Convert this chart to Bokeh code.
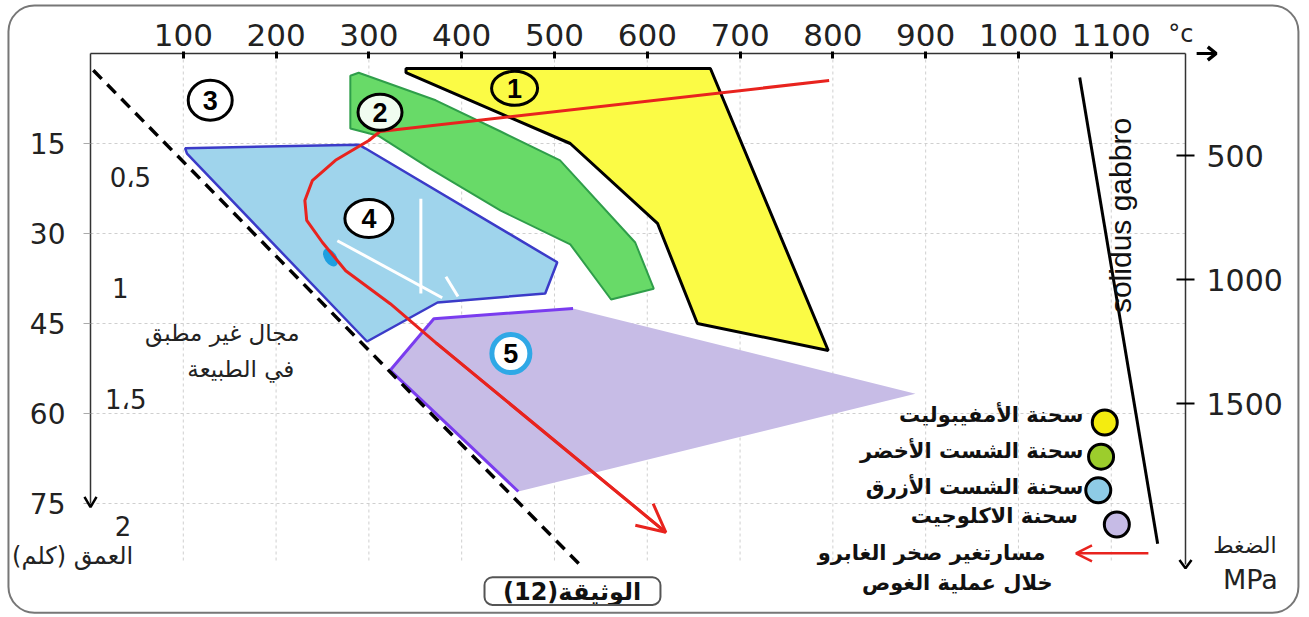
import math
from bokeh.plotting import figure
from bokeh.models import Range1d, LinearAxis, FixedTicker, Arrow, OpenHead
from bokeh.core.properties import value
from bokeh.embed import file_html
from bokeh.resources import INLINE

# ---------------- data (temperature °C, depth km) ----------------
temp_ticks = [100, 200, 300, 400, 500, 600, 700, 800, 900, 1000, 1100]
depth_ticks = [15, 30, 45, 60, 75]
pressure_ticks = [500, 1000, 1500]

# 1 amphibolite facies
amph_T = [340, 668, 795, 654, 611, 517, 340]
amph_D = [2.5, 2.5, 49.5, 45.0, 28.3, 15.0, 3.2]
# 2 greenschist facies
green_T = [280, 289, 372, 442, 506, 587, 607, 561, 517, 442, 366, 310, 280]
green_D = [3.7, 3.2, 7.8, 13.0, 17.8, 31.5, 39.2, 41.0, 31.8, 26.2, 19.2, 13.7, 12.5]
# 4 blueschist facies
blue_T = [102, 289, 296, 503, 490, 374, 298, 104]
blue_D = [15.8, 15.2, 15.8, 34.8, 40.0, 41.5, 48.0, 16.7]
# 5 eclogite facies
ecl_T = [370, 520, 889, 461, 323]
ecl_D = [44.2, 42.5, 56.7, 73.0, 52.8]
ecl_edge_T = [520, 370, 323, 461]
ecl_edge_D = [42.5, 44.2, 52.8, 73.0]
# white scratches inside blueschist field
scratch_T = [[266, 379], [356, 356], [383, 396]]
scratch_D = [[31.2, 40.7], [24.2, 40.0], [37.2, 40.5]]
# P-T path of the gabbro during subduction
path_T = [796, 312, 300, 264, 239, 231, 233, 250, 275, 323, 372, 620]
path_D = [4.5, 13.0, 14.5, 17.8, 21.2, 24.5, 27.8, 31.5, 36.2, 41.7, 48.2, 79.8]
# limit of the domain not realized in nature
limit_T = [3, 528]
limit_D = [2.8, 85.3]
# solidus of gabbro
solidus_T = [1066, 1150]
solidus_D = [4.0, 81.7]

zone_ids = ["1", "2", "3", "4", "5"]
zone_T = [457, 312, 129, 300, 453]
zone_D = [5.8, 9.8, 7.8, 27.5, 50.0]

gpa_text = ["0،5", "1", "1،5", "2"]
gpa_T = [43, 32, 38, 35]
gpa_D = [20.8, 39.0, 57.8, 78.7]

legend_labels = ["سحنة الأمفيبوليت", "سحنة الشست الأخضر", "سحنة الشست الأزرق", "سحنة الاكلوجيت"]
legend_colors = ["#f4ec10", "#9ccd2c", "#8ecbe6", "#c6bbe6"]
legend_dot_T = [1093, 1089, 1086, 1106]
legend_dot_D = [61.5, 67.2, 72.8, 78.5]
legend_text_T = [1070, 1070, 1070, 1064]
legend_text_D = [60.3, 66.3, 72.3, 77.0]
path_label = ["مسارتغير صخر الغابرو", "خلال عملية الغوص"]
path_label_T = [1029, 934]
path_label_D = [83.2, 88.3]
legend_arrow_T = [1140, 1062]
legend_arrow_D = [83.3, 83.3]

# axis ends
T_MAX = 1180
D_AXIS_END = 75.3
P_TOP, P_BOTTOM = 88.7, 2362.9
P_AXIS_END = 2150

RED = "#e8231e"
AR = value("DejaVu Sans")

p = figure(width=1309, height=617,
           x_range=Range1d(0, T_MAX), y_range=Range1d(94.0, 0),
           x_axis_location=None, y_axis_location=None,
           toolbar_location=None, output_backend="svg",
           min_border_left=90, min_border_right=124, min_border_top=53, min_border_bottom=0,
           background_fill_color="white", border_fill_color="white",
           outline_line_color=None)
p.grid.visible = False
p.extra_y_ranges = {"p": Range1d(P_BOTTOM, P_TOP)}

# grid
p.segment(x0=temp_ticks, y0=[0] * len(temp_ticks), x1=temp_ticks, y1=[84.5] * len(temp_ticks),
          line_color="#cfcfcf", line_dash="3 3", line_width=1)
p.segment(x0=[0] * len(depth_ticks), y0=depth_ticks, x1=[T_MAX] * len(depth_ticks), y1=depth_ticks,
          line_color="#cfcfcf", line_dash="3 3", line_width=1)

# facies fields
p.patch(ecl_T, ecl_D, fill_color="#c7bce6", line_color=None)
p.line(ecl_edge_T, ecl_edge_D, line_color="#7a3cef", line_width=3)
p.patch(blue_T, blue_D, fill_color="#9fd4ec", line_color="#3b3bc8", line_width=2.5)
p.multi_line(scratch_T, scratch_D, line_color="white", line_width=3)
p.patch(green_T, green_D, fill_color="#68da68", line_color="#2f9e4a", line_width=2)
p.patch(amph_T, amph_D, fill_color="#fbfb45", line_color="black", line_width=3)

p.line(limit_T, limit_D, line_color="black", line_dash="12 8", line_width=3.5)

# P-T path
p.ellipse(x=[258.6], y=[34.0], width=12, height=20, width_units="screen", height_units="screen",
          angle=0.6, fill_color="#1f9fe0", line_color=None)
p.line(path_T, path_D, line_color=RED, line_width=3)
p.add_layout(Arrow(end=OpenHead(size=28, line_color=RED, line_width=3),
                   x_start=path_T[-2], y_start=path_D[-2], x_end=path_T[-1], y_end=path_D[-1],
                   line_color=RED, line_width=3))

# solidus
p.line(solidus_T, solidus_D, line_color="black", line_width=3)
p.text(x=[1110], y=[27], text=["solidus gabbro"], angle=math.pi / 2,
       text_font=value("Liberation Sans"), text_font_size="30px",
       text_align="center", text_baseline="middle", text_color="#111")

# circled zone numbers
p.ellipse(x=zone_T[:4], y=zone_D[:4], width=[46, 44, 44, 48], height=[34, 36, 40, 38],
          width_units="screen", height_units="screen",
          fill_color=["#fbfb45", "white", "white", "white"], fill_alpha=[0, 0.9, 1, 1],
          line_color="black", line_width=3)
p.ellipse(x=zone_T[4:], y=zone_D[4:], width=38, height=38, width_units="screen", height_units="screen",
          fill_color="white", line_color="#2fa8e6", line_width=5)
p.text(x=zone_T, y=zone_D, text=zone_ids, text_font=value("Liberation Sans"),
       text_font_style="bold", text_font_size="27px", text_align="center",
       text_baseline="middle", text_color="black")

# inner pressure labels (GPa)
p.text(x=gpa_T, y=gpa_D, text=gpa_text, text_font=value("DejaVu Sans"), text_font_size="26px",
       text_align="center", text_baseline="middle", text_color="#222")

# domain label
p.text(x=[142, 162], y=[46.5, 52.6], text=["مجال غير مطبق", "في الطبيعة"], text_font=AR,
       text_font_size="23px", text_align="center", text_baseline="middle", text_color="#222")

# legend
p.scatter(x=legend_dot_T, y=legend_dot_D, marker="circle", size=25, fill_color=legend_colors,
          line_color="black", line_width=3)
p.text(x=legend_text_T, y=legend_text_D, text=legend_labels, text_font=AR, text_font_style="bold",
       text_font_size="21px", text_align="right", text_baseline="middle", text_color="#111")
p.text(x=path_label_T, y=path_label_D, text=path_label, text_font=AR, text_font_style="bold",
       text_font_size="21px", text_align=["right", "center"], text_baseline="middle", text_color="#111")
p.add_layout(Arrow(end=OpenHead(size=16, line_color=RED, line_width=2.5),
                   x_start=legend_arrow_T[0], y_start=legend_arrow_D[0],
                   x_end=legend_arrow_T[1], y_end=legend_arrow_D[1],
                   line_color=RED, line_width=2.5))

# axes
ax_top = LinearAxis(ticker=FixedTicker(ticks=temp_ticks), bounds=(0, T_MAX))
ax_left = LinearAxis(ticker=FixedTicker(ticks=depth_ticks), bounds=(0, D_AXIS_END))
ax_right = LinearAxis(y_range_name="p", ticker=FixedTicker(ticks=pressure_ticks), bounds=(P_TOP, P_AXIS_END))
for ax in (ax_top, ax_left, ax_right):
    ax.minor_tick_line_color = None
    ax.axis_line_color = "#333"
    ax.axis_line_width = 1.5
    ax.major_label_text_font = "DejaVu Sans"
    ax.major_label_text_color = "#222"
ax_top.major_tick_in = 5
ax_top.major_tick_out = 2
ax_top.major_tick_line_width = 3
ax_top.major_tick_line_color = "black"
ax_top.major_label_text_font_size = "31px"
ax_top.major_label_standoff = 6
ax_left.major_tick_in = 0
ax_left.major_tick_out = 7
ax_left.major_tick_line_color = "#aaaaaa"
ax_left.major_label_text_font_size = "28px"
ax_left.major_label_standoff = 18
ax_right.major_tick_in = 9
ax_right.major_tick_out = 9
ax_right.major_tick_line_width = 2
ax_right.major_tick_line_color = "black"
ax_right.major_label_text_font_size = "30px"
ax_right.major_label_standoff = 12
p.add_layout(ax_top, "above")
p.add_layout(ax_left, "left")
p.add_layout(ax_right, "right")

outs = []
# axis arrow heads (chevrons at the axis ends)
outs.append(p.multi_line(
    xs=[[T_MAX + 12, T_MAX + 33], [T_MAX + 24, T_MAX + 33, T_MAX + 24],
        [-6.5, 0, 6.5], [T_MAX - 6.5, T_MAX, T_MAX + 6.5]],
    ys=[[0, 0], [-1.1, 0, 1.1],
        [D_AXIS_END - 1.4, D_AXIS_END + 0.3, D_AXIS_END - 1.4], [84.4, 85.8, 84.4]],
    line_color="black", line_width=[3, 3.5, 2.5, 2.5]))

# texts outside the frame
outs.append(p.text(x=[1175], y=[-3.3], text=["°c"], text_font=value("DejaVu Sans"), text_font_size="24px",
                   text_align="center", text_baseline="middle", text_color="#222"))
outs.append(p.text(x=[1244], y=[82.0], text=["الضغط"], text_font=AR, text_font_size="22px",
                   text_align="center", text_baseline="middle", text_color="#222"))
outs.append(p.text(x=[1250], y=[87.6], text=["MPa"], text_font=value("DejaVu Sans"), text_font_size="27px",
                   text_align="center", text_baseline="middle", text_color="#222"))
outs.append(p.text(x=[-11], y=[83.8], text=["العمق   (كلم)"], text_font=AR, text_font_size="24px",
                   text_align="center", text_baseline="middle", text_color="#222"))
outs.append(p.text(x=[519], y=[89.7], text=["الوثيقة(12)"], text_font=AR, text_font_style="bold",
                   text_font_size="24px", text_align="center", text_baseline="middle", text_color="#111"))
outs.append(p.quad(left=[424.6], right=[614.2], top=[87.3], bottom=[91.9], border_radius=8,
                   fill_alpha=0, line_color="#555", line_width=2))
outs.append(p.quad(left=[-88.4], right=[1301.7], top=[-8.0], bottom=[93.2], border_radius=26,
                   fill_alpha=0, line_color="#777", line_width=2))
for r in outs:
    r.level = "annotation"

open("out.html", "w").write(file_html(p, INLINE))
